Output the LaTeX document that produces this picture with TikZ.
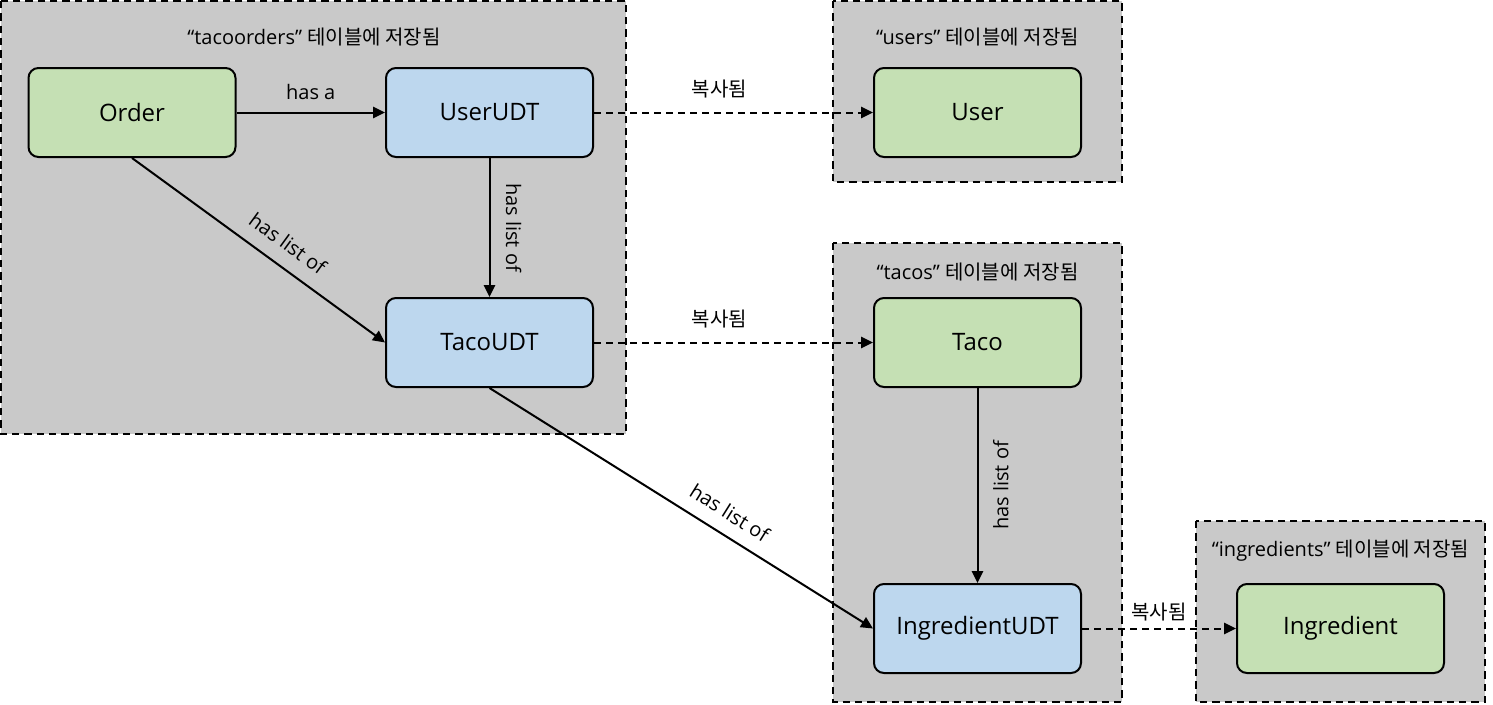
\documentclass[tikz,border=0pt]{standalone}
\usepackage{fontspec}
\setmainfont{Open Sans}
\newfontfamily\kr{Noto Sans CJK KR}
\usetikzlibrary{arrows.meta}
\definecolor{boxgray}{HTML}{C9C9C9}
\definecolor{entgreen}{HTML}{C5E0B4}
\definecolor{entblue}{HTML}{BDD7EE}
\begin{document}
\begin{tikzpicture}[x=0.75pt,y=-0.75pt,
  container/.style={draw=black, fill=boxgray, line width=1.5pt, dash pattern=on 5.5pt off 3.75pt},
  entity/.style={draw=black, line width=1.5pt, rounded corners=7.5pt, minimum width=155.25pt, minimum height=66.75pt, inner sep=0pt, font=\fontsize{18}{21}\selectfont},
  gbox/.style={entity, fill=entgreen},
  bbox/.style={entity, fill=entblue},
  title/.style={inner sep=0pt, font=\fontsize{15}{18}\selectfont},
  lbl/.style={inner sep=0pt, font=\fontsize{15}{18}\selectfont},
  rel/.style={line width=1.5pt, -{Triangle[length=9pt,width=8.5pt]}},
  relrev/.style={line width=1.5pt, {Triangle[length=9pt,width=8.5pt]}-},
  copyrel/.style={rel, dash pattern=on 5.25pt off 3.75pt}]

\useasboundingbox (0,0) rectangle (1493,704);
\fill[white] (0,0) rectangle (1493,704);

% containers
\draw[container] (1,1) rectangle (626,434);
\draw[container] (833,1) rectangle (1122,182);
\draw[container] (833,243) rectangle (1122,702);
\draw[container] (1196,521) rectangle (1485,702);

% container titles
\node[title] (t1) at (314,37) {“tacoorders” {\kr 테이블에 저장됨}};
\node[title] (t2) at (977.5,37) {“users” {\kr 테이블에 저장됨}};
\node[title] (t3) at (977.5,272) {“tacos” {\kr 테이블에 저장됨}};
\node[title] (t4) at (1340.5,551) {“ingredients” {\kr 테이블에 저장됨}};

% entities
\node[gbox] (order) at (132,112.5) {Order};
\node[bbox] (userudt) at (489.5,112.5) {UserUDT};
\node[bbox] (tacoudt) at (489.5,342.5) {TacoUDT};
\node[gbox] (user) at (977.5,112.5) {User};
\node[gbox] (taco) at (977.5,342.5) {Taco};
\node[bbox] (ingudt) at (977.5,628.5) {IngredientUDT};
\node[gbox] (ing) at (1340.5,628.5) {Ingredient};

% relations
\draw[rel] (order) -- (userudt) node[lbl, midway, above=8.6pt] {has a};
\draw[rel] (order.south) -- (tacoudt.west) node[lbl, pos=0.563, sloped, above=10.5pt] {has list of};
\draw[rel] (userudt) -- (tacoudt) node[lbl, midway, sloped, above=11.5pt] {has list of};
\draw[rel] (tacoudt.south) -- (ingudt.west) node[lbl, pos=0.596, sloped, above=10pt] {has list of};
\draw[relrev] (ingudt) -- (taco) node[lbl, midway, sloped, below=11pt] {has list of};

% copies
\draw[copyrel] (userudt) -- (user) node[lbl, pos=0.45, above=10pt] {\kr 복사됨};
\draw[copyrel] (tacoudt) -- (taco) node[lbl, pos=0.45, above=10pt] {\kr 복사됨};
\draw[copyrel] (ingudt) -- (ing) node[lbl, midway, above=5pt] {\kr 복사됨};
\end{tikzpicture}
\end{document}
